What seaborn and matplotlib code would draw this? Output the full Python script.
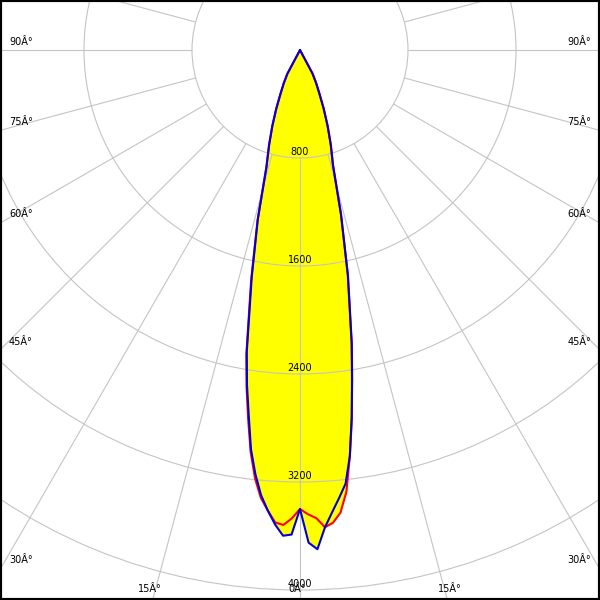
import matplotlib

matplotlib.use("Agg")
import matplotlib.pyplot as plt
import numpy as np
import pandas as pd
import seaborn as sns

# Half-plane angles (deg from nadir) and luminous intensities (cd)
angles = [0, 1, 2, 3, 4, 5, 6, 7, 8, 9, 10, 12, 14, 16, 18, 20, 22, 24, 26, 28, 30,
          35, 40, 45, 50, 55, 60, 65, 70, 75, 80, 85, 90]
c0 = [3400, 3440, 3470, 3540, 3510, 3440, 3290, 3030, 2760, 2460, 2200, 1700, 1250, 880,
      735, 595, 465, 350, 270, 195, 0, 0, 0, 0, 0, 0, 0, 0, 0, 0, 0, 0, 0]
c180 = [3400, 3470, 3520, 3505, 3420, 3330, 3190, 3000, 2760, 2530, 2290, 1740, 1300, 905,
        745, 600, 470, 355, 275, 200, 0, 0, 0, 0, 0, 0, 0, 0, 0, 0, 0, 0, 0]
c90 = [3400, 3650, 3700, 3540, 3430, 3330, 3230, 3030, 2750, 2470, 2210, 1710, 1260, 890,
       740, 600, 470, 355, 275, 200, 0, 0, 0, 0, 0, 0, 0, 0, 0, 0, 0, 0, 0]
c270 = [3400, 3590, 3600, 3520, 3420, 3310, 3160, 2980, 2730, 2510, 2270, 1720, 1290, 900,
        740, 600, 470, 355, 275, 200, 0, 0, 0, 0, 0, 0, 0, 0, 0, 0, 0, 0, 0]

rings = [800, 1600, 2400, 3200, 4000]
spokes = list(range(0, 360, 15))
side_labels = ["90Â°", "75Â°", "60Â°", "45Â°", "30Â°"]
bottom_labels = ["15Â°", "0Â°", "15Â°"]


def plane(right, left):
    theta = [-a for a in angles[::-1]] + angles[1:]
    cd = left[::-1] + right[1:]
    return pd.DataFrame({"theta": np.radians(theta), "cd": cd})


red = plane(c0, c180)
blue = plane(c90, c270)

sns.set_theme(style="white")
plt.rcParams["font.family"] = ["DejaVu Sans"]
plt.rcParams["text.color"] = "black"

fig = plt.figure(figsize=(6, 6), dpi=100)
fig.patch.set_facecolor("white")

# Polar axes whose pole sits near the top centre of the picture
rmax = 4700
scale = 540 / 4000  # px per cd
half = rmax * scale / 600
cx, cy = 0.5, 1 - 50 / 600
ax = fig.add_axes([cx - half, cy - half, 2 * half, 2 * half], projection="polar")
ax.set_theta_zero_location("S")
ax.set_theta_direction(1)
ax.set_facecolor("white")

# Fill
ax.fill(red["theta"], red["cd"], color="#ffff00", lw=0, zorder=1)
ax.fill(blue["theta"], blue["cd"], color="#ffff00", lw=0, zorder=1)

# Curves
sns.lineplot(data=red, x="theta", y="cd", sort=False, estimator=None,
             color="#ff0000", lw=1.5, ax=ax, zorder=3)
sns.lineplot(data=blue, x="theta", y="cd", sort=False, estimator=None,
             color="#0000dd", lw=1.5, ax=ax, zorder=3)

# Grid
ax.set_xticks([])
ax.set_yticks(rings)
ax.set_yticklabels([])
ax.yaxis.grid(True, color="#c4c4c4", lw=0.8, zorder=2.5)
ax.set_axisbelow(False)
ax.vlines(np.radians(spokes), rings[0], rmax, color="#c4c4c4", lw=0.8, zorder=2.5)
ax.set_thetalim(0, 2 * np.pi)
ax.set_ylim(0, rmax)
ax.spines["polar"].set_visible(False)
ax.set_xlabel("")
ax.set_ylabel("")

for r in rings:
    ax.annotate(str(r), xy=(0, r), xytext=(0, 0.5), textcoords="offset points",
                ha="center", va="bottom", fontsize=7, color="black", zorder=4)

# Angle labels along the picture border
side_y = [42, 122, 214, 342, 560]
for lab, y in zip(side_labels, side_y):
    fig.text(9 / 600, 1 - y / 600, lab, ha="left", va="center", fontsize=7, color="black")
    fig.text(591 / 600, 1 - y / 600, lab, ha="right", va="center", fontsize=7, color="black")
for lab, x in zip(bottom_labels, [150, 297, 450]):
    fig.text(x / 600, 1 - 589 / 600, lab, ha="center", va="center", fontsize=7, color="black")

# Frame
fig.add_artist(plt.Rectangle((0, 0), 1, 1, transform=fig.transFigure, fill=False,
                             ec="black", lw=3, zorder=10, clip_on=False))

fig.savefig("out.png", dpi=100)
